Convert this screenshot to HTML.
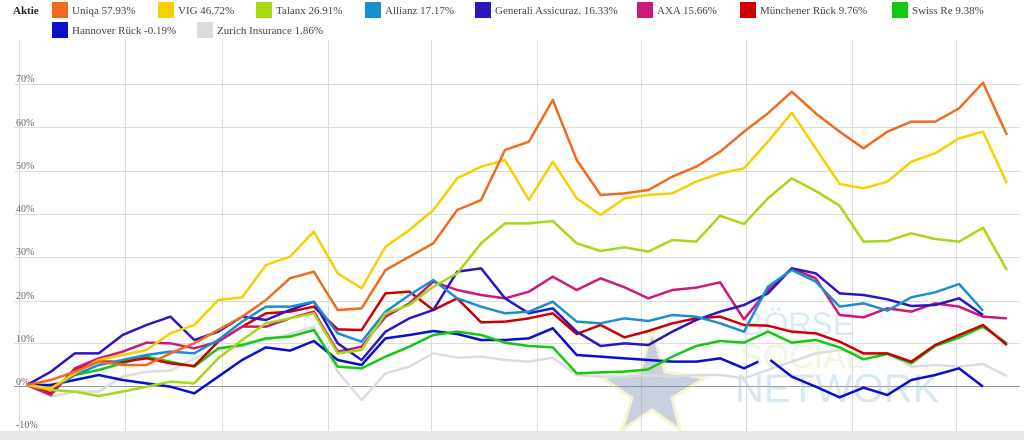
<!DOCTYPE html>
<html><head><meta charset="utf-8"><style>
html,body{margin:0;padding:0;background:#fff;width:1024px;height:440px;overflow:hidden}
svg{display:block}
.t{font-family:"Liberation Serif",serif}
.w{font-family:"Liberation Sans",sans-serif}
</style></head><body>
<svg width="1024" height="440" viewBox="0 0 1024 440" xmlns="http://www.w3.org/2000/svg">
<g font-size="11" fill="#444" class="t">
<text x="13" y="14" font-weight="bold" fill="#222">Aktie</text>
<rect x="52" y="2" width="16" height="16" fill="#f26b1d"/><text x="72" y="14">Uniqa  57.93%</text>
<rect x="158" y="2" width="16" height="16" fill="#f7d000"/><text x="178" y="14">VIG  46.72%</text>
<rect x="256" y="2" width="16" height="16" fill="#a8d814"/><text x="276" y="14">Talanx  26.91%</text>
<rect x="365" y="2" width="16" height="16" fill="#1a8fd0"/><text x="385" y="14">Allianz  17.17%</text>
<rect x="475" y="2" width="16" height="16" fill="#2d16c0"/><text x="495" y="14">Generali Assicuraz.  16.33%</text>
<rect x="637" y="2" width="16" height="16" fill="#cc1a7a"/><text x="657" y="14">AXA  15.66%</text>
<rect x="740" y="2" width="16" height="16" fill="#cc0000"/><text x="760" y="14">Münchener Rück  9.76%</text>
<rect x="892" y="2" width="16" height="16" fill="#14c814"/><text x="912" y="14">Swiss Re  9.38%</text>
<rect x="52" y="22" width="16" height="16" fill="#0a10c8"/><text x="72" y="34">Hannover Rück  -0.19%</text>
<rect x="197" y="22" width="16" height="16" fill="#dcdcdc"/><text x="217" y="34">Zurich Insurance  1.86%</text>
</g>
<g stroke="#dcdcdc" stroke-width="1">
<line x1="19.5" y1="40" x2="19.5" y2="432"/><line x1="125.5" y1="40" x2="125.5" y2="432"/>
<line x1="222.5" y1="40" x2="222.5" y2="432"/><line x1="328.5" y1="40" x2="328.5" y2="432"/>
<line x1="431.5" y1="40" x2="431.5" y2="432"/><line x1="537.5" y1="40" x2="537.5" y2="432"/>
<line x1="641.5" y1="40" x2="641.5" y2="432"/><line x1="746.5" y1="40" x2="746.5" y2="432"/>
<line x1="852.5" y1="40" x2="852.5" y2="432"/><line x1="956.5" y1="40" x2="956.5" y2="432"/>
<line x1="14" y1="84.5" x2="1020" y2="84.5"/><line x1="14" y1="127.5" x2="1020" y2="127.5"/>
<line x1="14" y1="171.5" x2="1020" y2="171.5"/><line x1="14" y1="214.5" x2="1020" y2="214.5"/>
<line x1="14" y1="257.5" x2="1020" y2="257.5"/><line x1="14" y1="301.5" x2="1020" y2="301.5"/>
<line x1="14" y1="343.5" x2="1020" y2="343.5"/>
</g>
<line x1="14" y1="386.5" x2="1020" y2="386.5" stroke="#999"/>
<g font-size="10" fill="#666" class="t">
<text x="16" y="82">70%</text><text x="16" y="126">60%</text><text x="16" y="169">50%</text>
<text x="16" y="212">40%</text><text x="16" y="255">30%</text><text x="16" y="299">20%</text>
<text x="16" y="342">10%</text><text x="16" y="385">0%</text><text x="16" y="428">-10%</text>
</g>
<rect x="0" y="431" width="1024" height="9" fill="#e8e8e8"/>
<g opacity="0.4">
<polygon points="652,330 665,372 705,378 672,398 680,430 652,410 622,430 632,398 602,378 640,372" fill="#7a8fb5" stroke="#e8e890" stroke-width="3"/>
<text x="742" y="335" class="w" font-size="32" fill="#a8cce4">BÖRSE</text>
<text x="740" y="368" class="w" font-size="34" fill="#e0e8b0">SOCIAL</text>
<text x="735" y="402" class="w" font-size="40" fill="#9cc6e0">NETWORK</text>
</g>
<g transform="translate(27,60) scale(23.9,0.33333)" fill="none" stroke-width="2.5" stroke-linejoin="round">
<polyline vector-effect="non-scaling-stroke" stroke="#dcdcdc" points="0,975 1,1010 2,995 3,995 4,950 5,935 6,932 7,895 8,870 9,860 10,840 11,822 12,800 13,935 14,1020 15,940 16,920 17,880 18,893 19,890 20,900 21,905 22,893 23,945 24,950 25,950 26,945 27,950 28,945 29,945 30,955 31,930 32,905 33,880 34,870 35,885 36,880 37,920 38,915 39,920 40,912 41,948"/>
<polyline vector-effect="non-scaling-stroke" stroke="#0a10c8" points="0,975 1,975 2,960 3,945 4,960 5,970 6,980 7,1000 8,950 9,900 10,862 11,872 12,843 13,900 14,915 15,835 16,825 17,813 18,822 19,840 20,840 21,835 22,805 23,885 24,890 25,895 26,900 27,905 28,905 29,895 30,925 30.6,905"/>
<polyline vector-effect="non-scaling-stroke" stroke="#0a10c8" points="31.1,900 32,950 33,980 34,1012 35,983 36,1005 37,960 38,945 39,925 40,980"/>
<polyline vector-effect="non-scaling-stroke" stroke="#14c814" points="0,975 1,990 2,945 3,930 4,910 5,890 6,905 7,920 8,865 9,855 10,835 11,830 12,810 13,920 14,925 15,890 16,860 17,825 18,815 19,825 20,848 21,858 22,862 23,940 24,937 25,935 26,928 27,890 28,858 29,843 30,848 31,815 32,848 33,840 34,862 35,898 36,882 37,910 38,858 39,833 40,800 41,850"/>
<polyline vector-effect="non-scaling-stroke" stroke="#cc0000" points="0,975 1,1000 2,930 3,905 4,905 5,895 6,910 7,918 8,845 9,800 10,760 11,755 12,740 13,808 14,810 15,700 16,695 17,750 18,715 19,787 20,785 21,775 22,760 23,822 24,795 25,832 26,813 27,790 28,775 29,770 30,795 31,797 32,815 33,820 34,845 35,880 36,880 37,905 38,855 39,825 40,795 41,855"/>
<polyline vector-effect="non-scaling-stroke" stroke="#cc1a7a" points="0,975 1,1005 2,925 3,895 4,875 5,848 6,850 7,865 8,845 9,800 10,800 11,775 12,755 13,875 14,860 15,770 16,730 17,665 18,690 19,705 20,715 21,695 22,650 23,690 24,655 25,682 26,715 27,690 28,683 29,667 30,778 31,690 32,625 33,655 34,765 35,772 36,745 37,755 38,730 39,740 40,770 41,775"/>
<polyline vector-effect="non-scaling-stroke" stroke="#2d16c0" points="0,975 1,935 2,880 3,880 4,825 5,795 6,770 7,840 8,815 9,770 10,780 11,750 12,725 13,850 14,900 15,815 16,775 17,750 18,635 19,625 20,715 21,760 22,745 23,815 24,858 25,850 26,855 27,815 28,780 29,755 30,735 31,700 32,625 33,640 34,700 35,705 36,718 37,738 38,735 39,715 40,765"/>
<polyline vector-effect="non-scaling-stroke" stroke="#1a8fd0" points="0,975 1,985 2,945 3,915 4,900 5,885 6,875 7,880 8,840 9,785 10,740 11,740 12,725 13,820 14,845 15,755 16,705 17,660 18,715 19,740 20,760 21,755 22,725 23,785 24,790 25,775 26,783 27,765 28,770 29,790 30,815 31,680 32,630 33,665 34,740 35,730 36,752 37,712 38,697 39,672 40,752"/>
<polyline vector-effect="non-scaling-stroke" stroke="#a8d814" points="0,975 1,990 2,995 3,1008 4,995 5,980 6,965 7,970 8,895 9,840 10,790 11,775 12,760 13,880 14,870 15,760 16,735 17,680 18,640 19,550 20,490 21,490 22,483 23,550 24,573 25,562 26,575 27,540 28,545 29,467 30,492 31,415 32,355 33,393 34,437 35,545 36,543 37,520 38,537 39,545 40,503 41,630"/>
<polyline vector-effect="non-scaling-stroke" stroke="#f7d000" points="0,975 1,985 2,940 3,900 4,885 5,870 6,820 7,795 8,720 9,712 10,615 11,590 12,515 13,640 14,685 15,560 16,510 17,450 18,355 19,320 20,300 21,420 22,305 23,415 24,465 25,415 26,405 27,400 28,365 29,340 30,325 31,245 32,158 33,265 34,372 35,385 36,365 37,305 38,280 39,235 40,215 41,370"/>
<polyline vector-effect="non-scaling-stroke" stroke="#f26b1d" points="0,975 1,960 2,935 3,905 4,915 5,915 6,880 7,850 8,810 9,770 10,720 11,655 12,635 13,750 14,745 15,630 16,590 17,550 18,450 19,420 20,270 21,245 22,120 23,300 24,405 25,400 26,390 27,350 28,320 29,275 30,215 31,160 32,95 33,160 34,215 35,265 36,215 37,185 38,185 39,145 40,68 41,225"/>
</g>
</svg>
</body></html>
